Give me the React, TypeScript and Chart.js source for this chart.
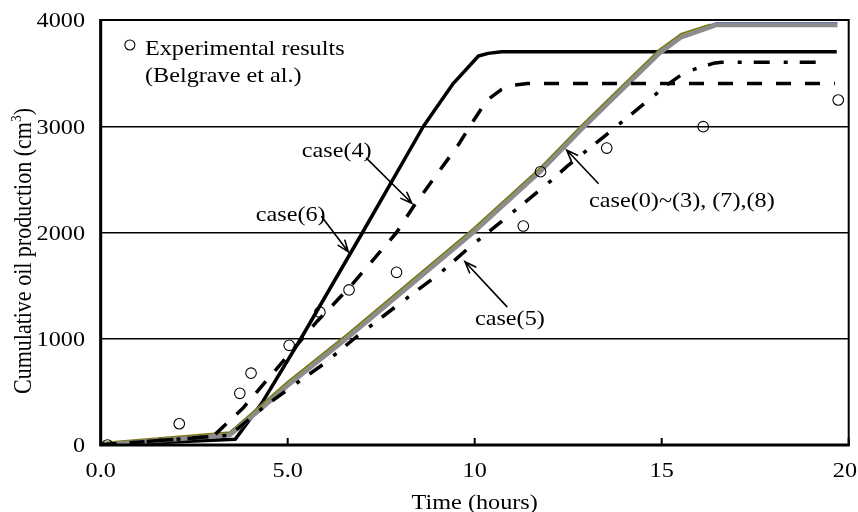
import React, { useEffect, useRef } from "react";
import { Chart, registerables } from "chart.js";

Chart.register(...registerables);

// Axis ticks
const hoursTicks = [0, 5, 10, 15, 20];
const hoursTickLabels = ["0.0", "5.0", "10", "15", "20"];
const oilTicks = [0, 1000, 2000, 3000, 4000];
const oilTickLabels = ["0", "1000", "2000", "3000", "4000"];

// Experimental results (Belgrave et al.)
const expHours = [0.18, 2.1, 3.72, 4.02, 5.04, 5.86, 6.64, 7.91, 11.3, 11.76, 13.53, 16.11, 19.72];
const expOil = [0, 200, 486, 676, 938, 1250, 1460, 1625, 2061, 2572, 2795, 2996, 3247];

// case(0)~(3), (7),(8)
const baseHours = [0, 3.45, 4.35, 5.0, 6.6, 8.3, 9.96, 11.75, 12.85, 13.9, 14.95, 15.53, 16.03, 16.47, 19.7];
const baseOil = [0, 95, 360, 560, 1010, 1510, 2000, 2573, 2970, 3330, 3690, 3840, 3900, 3953, 3953];
const case7Hours = [0, 3.45, 4.35, 5.0, 6.6, 8.3, 9.96, 11.75, 12.85, 13.9, 14.95, 15.53, 16.03, 16.3];
const case7Oil = [20, 120, 395, 595, 1045, 1545, 2035, 2608, 3005, 3365, 3725, 3872, 3928, 3958];
const case8Hours = [16.25, 16.47, 19.7];
const case8Oil = [3950, 3975, 3975];

// case(4)
const case4Hours = [0, 3.0, 3.8, 5.1, 5.75, 6.67, 7.91, 8.36, 9.56, 9.98, 10.32, 10.72, 11.0, 11.41, 19.63];
const case4Oil = [0, 80, 345, 880, 1150, 1490, 2000, 2243, 2824, 3059, 3241, 3348, 3385, 3402, 3402];

// case(5)
const case5Hours = [0, 3.45, 4.35, 5.15, 5.95, 6.84, 8.0, 9.07, 9.79, 11.0, 12.01, 12.46, 13.5, 15.13, 15.58, 15.94, 16.38, 16.6, 19.45];
const case5Oil = [0, 92, 355, 560, 760, 1019, 1333, 1616, 1840, 2185, 2478, 2620, 2915, 3385, 3498, 3545, 3592, 3602, 3602];

// case(6)
const case6Hours = [0, 3.6, 4.3, 5.35, 7.0, 8.63, 9.43, 10.1, 10.36, 10.72, 19.68];
const case6Oil = [0, 55, 390, 1000, 2000, 3000, 3404, 3661, 3686, 3702, 3702];

// Callouts: label anchor, arrow tail, arrow tip (hours, cm3)
const callouts = [
  { text: "case(4)", at: [6.31, 2776], from: [7.11, 2698], to: [8.32, 2275] },
  { text: "case(6)", at: [5.08, 2177], from: [5.91, 2149], to: [6.62, 1819] },
  { text: "case(0)~(3), (7),(8)", at: [15.54, 2306], from: [13.3, 2463], to: [12.46, 2776] },
  { text: "case(5)", at: [10.94, 1200], from: [10.86, 1302], to: [9.74, 1725] },
];

const legendLines = ["Experimental results", "(Belgrave et al.)"];

const FONT_FAMILY = "'Liberation Serif', 'Times New Roman', Times, serif";
const FONT_PX = 22;
const STRETCH = 1.1;

type Seg = { text: string; sup?: boolean };

const pts = (xs: number[], ys: number[]) => xs.map((x, i) => ({ x, y: ys[i] }));

function drawLabel(
  ctx: CanvasRenderingContext2D,
  segs: Seg[],
  x: number,
  y: number,
  align: "left" | "center" | "right",
  rotate = 0,
  maxRight = Infinity
) {
  ctx.save();
  ctx.fillStyle = "#000";
  ctx.textBaseline = "alphabetic";
  ctx.textAlign = "left";
  const supPx = FONT_PX * 0.62;
  const widths = segs.map((s) => {
    ctx.font = `${s.sup ? supPx : FONT_PX}px ${FONT_FAMILY}`;
    return ctx.measureText(s.text).width;
  });
  const total = widths.reduce((a, b) => a + b, 0);
  let cx = align === "left" ? 0 : align === "center" ? -total / 2 : -total;
  if (!rotate) {
    const overflow = x + (cx + total) * STRETCH - maxRight;
    if (overflow > 0) x -= overflow;
  }
  ctx.translate(x, y);
  ctx.scale(STRETCH, 1);
  if (rotate) ctx.rotate(rotate);
  const base = FONT_PX * 0.33;
  segs.forEach((s, i) => {
    ctx.font = `${s.sup ? supPx : FONT_PX}px ${FONT_FAMILY}`;
    ctx.fillText(s.text, cx, s.sup ? base - FONT_PX * 0.42 : base);
    cx += widths[i];
  });
  ctx.restore();
}

function drawArrow(ctx: CanvasRenderingContext2D, x0: number, y0: number, x1: number, y1: number) {
  const ang = Math.atan2(y1 - y0, x1 - x0);
  const head = 12;
  const spread = 0.36;
  ctx.save();
  ctx.strokeStyle = "#000";
  ctx.lineWidth = 1.6;
  ctx.lineCap = "round";
  ctx.beginPath();
  ctx.moveTo(x0, y0);
  ctx.lineTo(x1, y1);
  ctx.moveTo(x1 - head * Math.cos(ang - spread), y1 - head * Math.sin(ang - spread));
  ctx.lineTo(x1, y1);
  ctx.lineTo(x1 - head * Math.cos(ang + spread), y1 - head * Math.sin(ang + spread));
  ctx.stroke();
  ctx.restore();
}

const decorations = {
  id: "decorations",
  afterDraw(chart: any) {
    const { ctx, chartArea: a, scales } = chart;
    const xs = scales.x;
    const ys = scales.y;

    // frame
    ctx.save();
    ctx.strokeStyle = "#000";
    ctx.lineWidth = 2;
    ctx.strokeRect(a.left, a.top, a.right - a.left, a.bottom - a.top);
    ctx.lineWidth = 3;
    ctx.beginPath();
    ctx.moveTo(a.left, a.top - 1);
    ctx.lineTo(a.left, a.bottom);
    ctx.lineTo(a.right + 1, a.bottom);
    ctx.stroke();
    // inward tick marks on the time axis
    ctx.lineWidth = 2;
    hoursTicks.forEach((v) => {
      const px = xs.getPixelForValue(v);
      ctx.beginPath();
      ctx.moveTo(px, a.bottom);
      ctx.lineTo(px, a.bottom - 7);
      ctx.stroke();
    });
    ctx.restore();

    // tick labels
    hoursTicks.forEach((v, i) => {
      drawLabel(
        ctx,
        [{ text: hoursTickLabels[i] }],
        xs.getPixelForValue(v),
        a.bottom + 25,
        "center",
        0,
        chart.width - 1
      );
    });
    oilTicks.forEach((v, i) => {
      drawLabel(ctx, [{ text: oilTickLabels[i] }], a.left - 15.7, ys.getPixelForValue(v), "right");
    });

    // axis titles
    drawLabel(ctx, [{ text: "Time (hours)" }], (a.left + a.right) / 2, a.bottom + 56.5, "center");
    drawLabel(
      ctx,
      [{ text: "Cumulative oil production (cm" }, { text: "3", sup: true }, { text: ")" }],
      a.left - 77.4,
      (a.top + a.bottom) / 2 + 18.5,
      "center",
      -Math.PI / 2
    );

    // legend
    ctx.save();
    ctx.strokeStyle = "#000";
    ctx.lineWidth = 1.1;
    ctx.beginPath();
    ctx.arc(xs.getPixelForValue(0.78), ys.getPixelForValue(3765), 5, 0, Math.PI * 2);
    ctx.stroke();
    ctx.restore();
    drawLabel(ctx, [{ text: legendLines[0] }], xs.getPixelForValue(1.184), ys.getPixelForValue(3738), "left");
    drawLabel(ctx, [{ text: legendLines[1] }], xs.getPixelForValue(1.184), ys.getPixelForValue(3485), "left");

    // callouts
    callouts.forEach((c) => {
      drawLabel(ctx, [{ text: c.text }], xs.getPixelForValue(c.at[0]), ys.getPixelForValue(c.at[1]), "center");
      drawArrow(
        ctx,
        xs.getPixelForValue(c.from[0]),
        ys.getPixelForValue(c.from[1]),
        xs.getPixelForValue(c.to[0]),
        ys.getPixelForValue(c.to[1])
      );
    });
  },
};

const lineStyle = (color: string, width: number, dash: number[] = []) => ({
  showLine: true,
  borderColor: color,
  backgroundColor: color,
  borderWidth: width,
  borderDash: dash,
  borderJoinStyle: "round" as const,
  pointRadius: 0,
  tension: 0,
  fill: false,
});

export default function App() {
  const ref = useRef<HTMLCanvasElement>(null);

  useEffect(() => {
    if (!ref.current) return;
    const chart = new Chart(ref.current, {
      type: "scatter",
      data: {
        datasets: [
          {
            label: "Experimental results (Belgrave et al.)",
            data: pts(expHours, expOil),
            pointStyle: "circle",
            pointRadius: 5.3,
            pointBorderWidth: 1.1,
            pointBorderColor: "#000",
            pointBackgroundColor: "rgba(0,0,0,0)",
            showLine: false,
          },
          { label: "case(4)", data: pts(case4Hours, case4Oil), ...lineStyle("#000", 3.5, [15, 14]) },
          { label: "case(5)", data: pts(case5Hours, case5Oil), ...lineStyle("#000", 3.5, [16, 14, 4, 12]) },
          { label: "case(0)~(3)", data: pts(baseHours, baseOil), ...lineStyle("#8c8c8c", 4.5) },
          { label: "case(7)", data: pts(case7Hours, case7Oil), ...lineStyle("#7a7a10", 2) },
          { label: "case(8)", data: pts(case8Hours, case8Oil), ...lineStyle("#5a68b0", 1.4) },
          { label: "case(6)", data: pts(case6Hours, case6Oil), ...lineStyle("#000", 3.5) },
        ],
      },
      options: {
        animation: false,
        responsive: false,
        devicePixelRatio: 1,
        events: [],
        layout: { padding: { left: 100.7, right: 9.3, top: 20, bottom: 67 } },
        plugins: { legend: { display: false }, tooltip: { enabled: false } },
        scales: {
          x: {
            type: "linear",
            min: 0,
            max: 20,
            ticks: { display: false },
            grid: { display: false, drawTicks: false },
            border: { display: false },
            afterBuildTicks: (s: any) => {
              s.ticks = hoursTicks.map((value) => ({ value }));
            },
            afterFit: (s: any) => {
              s.height = 0;
              s.paddingLeft = 0;
              s.paddingRight = 0;
            },
          },
          y: {
            type: "linear",
            min: 0,
            max: 4000,
            ticks: { display: false },
            grid: { color: "#000", lineWidth: 1.5, drawTicks: false },
            border: { display: false },
            afterBuildTicks: (s: any) => {
              s.ticks = oilTicks.map((value) => ({ value }));
            },
            afterFit: (s: any) => {
              s.width = 0;
              s.paddingTop = 0;
              s.paddingBottom = 0;
            },
          },
        },
      },
      plugins: [decorations],
    });
    return () => chart.destroy();
  }, []);

  return (
    <div style={{ position: "absolute", left: 0, top: 0, width: 858, height: 512, background: "#fff" }}>
      <canvas ref={ref} width={858} height={512} style={{ display: "block", width: 858, height: 512 }} />
    </div>
  );
}
